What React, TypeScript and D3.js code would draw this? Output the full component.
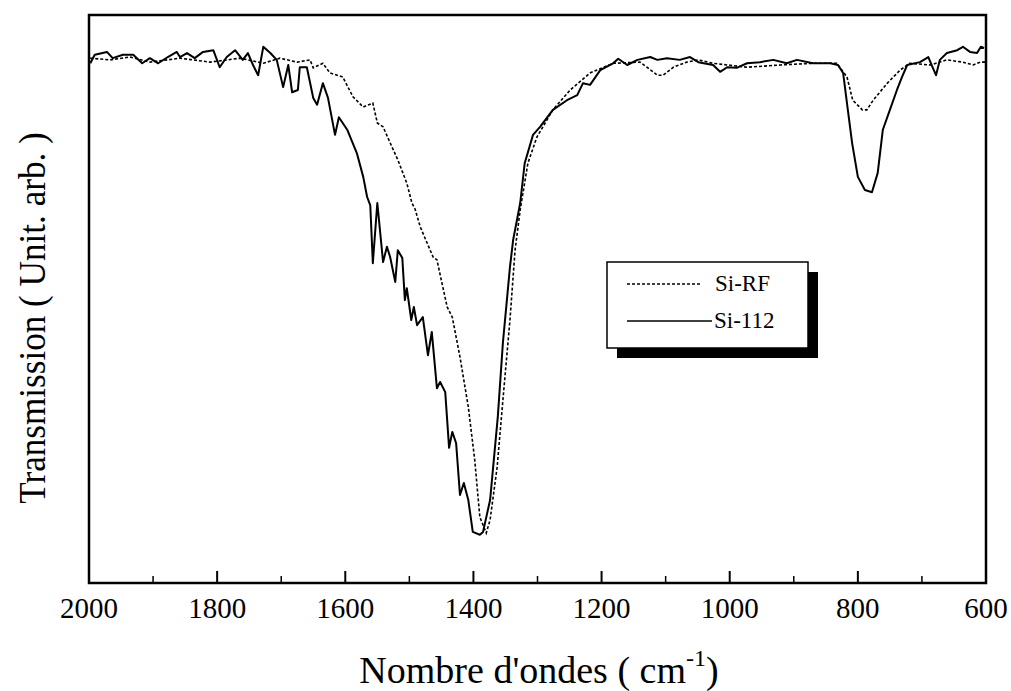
import React from "react";
import * as d3 from "d3";

// Si-RF (dashed) : [wavenumber cm-1, transmission a.u.]
const siRF: [number, number][] = [
  [1998, 92.4], [1967, 92.1], [1936, 92.6], [1905, 91.7], [1858, 92.4], [1811, 91.7],
  [1764, 92.4], [1728, 91.5], [1702, 92.4], [1675, 91.7], [1655, 92.1], [1650, 90.7],
  [1635, 91.5], [1624, 89.8], [1604, 89.1], [1588, 85.6], [1572, 83.8], [1557, 84.5],
  [1550, 81.0], [1541, 80.3], [1530, 77.5], [1518, 74.5], [1504, 70.4], [1496, 66.9],
  [1491, 65.8], [1483, 62.7], [1463, 57.4], [1457, 56.9], [1441, 48.6], [1433, 46.8],
  [1421, 39.8], [1408, 31.0], [1398, 21.7], [1390, 11.6], [1380, 8.8], [1374, 11.1],
  [1363, 20.4], [1354, 32.2], [1343, 46.3], [1335, 58.6], [1327, 65.7], [1315, 73.9],
  [1301, 78.5], [1276, 83.3], [1249, 86.8], [1218, 89.8], [1182, 91.5], [1140, 91.7],
  [1129, 90.8], [1113, 89.4], [1104, 89.4], [1088, 90.8], [1067, 91.7], [1049, 92.1],
  [1026, 91.5], [973, 90.8], [921, 91.2], [870, 91.5], [833, 91.5], [817, 89.1],
  [808, 85.0], [793, 83.3], [786, 83.3], [776, 85.0], [754, 88.0], [734, 90.3],
  [719, 91.5], [687, 91.2], [661, 92.1], [636, 91.7], [620, 91.2], [609, 91.7], [601, 91.7],
];

// Si-112 (solid)
const si112: [number, number][] = [
  [1998, 91.5], [1991, 93.0], [1972, 93.5], [1963, 92.4], [1947, 93.0], [1931, 93.0],
  [1917, 91.5], [1905, 92.4], [1892, 91.5], [1877, 92.6], [1863, 93.5], [1858, 92.6],
  [1847, 93.3], [1835, 92.4], [1822, 93.5], [1806, 93.8], [1796, 90.8], [1785, 92.6],
  [1772, 93.8], [1760, 92.1], [1752, 93.3], [1744, 91.2], [1736, 89.4], [1728, 94.4],
  [1717, 93.3], [1707, 92.1], [1697, 87.3], [1689, 91.2], [1683, 86.4], [1674, 86.8],
  [1671, 90.8], [1660, 90.8], [1650, 85.4], [1644, 84.2], [1635, 88.0], [1627, 85.4],
  [1616, 78.9], [1610, 82.0], [1597, 79.8], [1582, 75.7], [1572, 71.5], [1566, 68.0],
  [1561, 66.5], [1557, 56.3], [1550, 66.9], [1541, 56.5], [1535, 59.2], [1530, 57.4],
  [1522, 53.0], [1518, 58.6], [1511, 57.2], [1507, 49.8], [1504, 51.9], [1497, 46.3],
  [1493, 48.6], [1488, 45.4], [1479, 46.8], [1471, 40.1], [1465, 44.2], [1457, 34.3],
  [1452, 35.4], [1444, 33.6], [1438, 23.8], [1433, 26.6], [1427, 24.6], [1421, 15.5],
  [1415, 17.6], [1408, 14.6], [1401, 9.0], [1390, 8.5], [1385, 9.0], [1374, 14.6],
  [1362, 29.2], [1354, 42.3], [1343, 55.6], [1338, 60.4], [1327, 66.9], [1320, 73.9],
  [1307, 78.9], [1296, 80.3], [1276, 83.3], [1254, 85.0], [1238, 85.9], [1229, 88.0],
  [1218, 87.7], [1202, 90.3], [1182, 91.5], [1174, 92.3], [1160, 91.2], [1144, 92.1],
  [1124, 92.6], [1113, 92.1], [1098, 92.4], [1078, 92.1], [1062, 92.6], [1049, 91.7],
  [1026, 91.2], [1015, 90.0], [1004, 90.8], [989, 90.7], [973, 91.5], [953, 91.7],
  [932, 92.1], [911, 91.5], [895, 92.1], [870, 91.5], [843, 91.5], [831, 91.2],
  [823, 89.8], [817, 84.5], [809, 77.5], [800, 71.5], [789, 69.2], [778, 68.8],
  [769, 72.2], [761, 79.8], [750, 83.3], [739, 86.8], [731, 89.1], [723, 91.2],
  [703, 91.7], [690, 92.6], [683, 90.7], [678, 89.4], [672, 92.1], [661, 93.3],
  [645, 93.8], [636, 94.4], [625, 93.5], [614, 93.3], [608, 94.4], [603, 94.2],
];

const majorTicks = [2000, 1800, 1600, 1400, 1200, 1000, 800, 600];
const minorTicks = [1900, 1700, 1500, 1300, 1100, 900, 700];
const seriesNames = ["Si-RF", "Si-112"];

const W = 1011, H = 691;
const L = 89, R = 986, T = 15, B = 583;
const FONT = "Liberation Serif, DejaVu Serif, serif";

export default function App() {
  const x = d3.scaleLinear().domain([2000, 600]).range([L, R]);
  const y = d3.scaleLinear().domain([0, 100]).range([B, T]);
  const line = d3.line<[number, number]>().x(d => x(d[0])).y(d => y(d[1])).curve(d3.curveLinear);
  const ts = { fontFamily: FONT } as React.CSSProperties;

  return (
    <svg width={W} height={H} style={{ position: "absolute", left: 0, top: 0, background: "#fff" }}>
      <rect x={0} y={0} width={W} height={H} fill="#fff" />
      <path d={line(siRF) || ""} fill="none" stroke="#000" strokeWidth={1.6} strokeDasharray="3,2" />
      <path d={line(si112) || ""} fill="none" stroke="#000" strokeWidth={2} strokeLinejoin="round" />
      {/* frame */}
      <rect x={L} y={T} width={R - L} height={B - T} fill="none" stroke="#000" strokeWidth={2.5} />
      {majorTicks.map(t => (
        <g key={"M" + t}>
          <line x1={x(t)} x2={x(t)} y1={B} y2={B - 12} stroke="#000" strokeWidth={2} />
          <text x={x(t)} y={618} textAnchor="middle" style={ts} fontSize={29}>{t}</text>
        </g>
      ))}
      {minorTicks.map(t => (
        <line key={"m" + t} x1={x(t)} x2={x(t)} y1={B} y2={B - 7} stroke="#000" strokeWidth={1.5} />
      ))}
      <text x={539} y={683} textAnchor="middle" style={ts} fontSize={38}>
        Nombre d'ondes ( cm<tspan dy={-17} fontSize={24}>-1</tspan><tspan dy={17}>)</tspan>
      </text>
      <text transform="translate(45,318) rotate(-90) scale(0.95,1)" textAnchor="middle" style={ts} fontSize={37}>
        Transmission ( Unit. arb. )
      </text>
      {/* legend */}
      <rect x={617} y={272} width={201} height={86} fill="#000" />
      <rect x={607} y={262} width={201} height={86} fill="#fff" stroke="#000" strokeWidth={1.5} />
      <line x1={627} x2={702} y1={284} y2={284} stroke="#000" strokeWidth={1.3} strokeDasharray="3,2" />
      <text x={715} y={291} style={ts} fontSize={23}>{seriesNames[0]}</text>
      <line x1={627} x2={712} y1={321} y2={321} stroke="#000" strokeWidth={1.3} />
      <text x={714} y={328} style={ts} fontSize={23}>{seriesNames[1]}</text>
    </svg>
  );
}
